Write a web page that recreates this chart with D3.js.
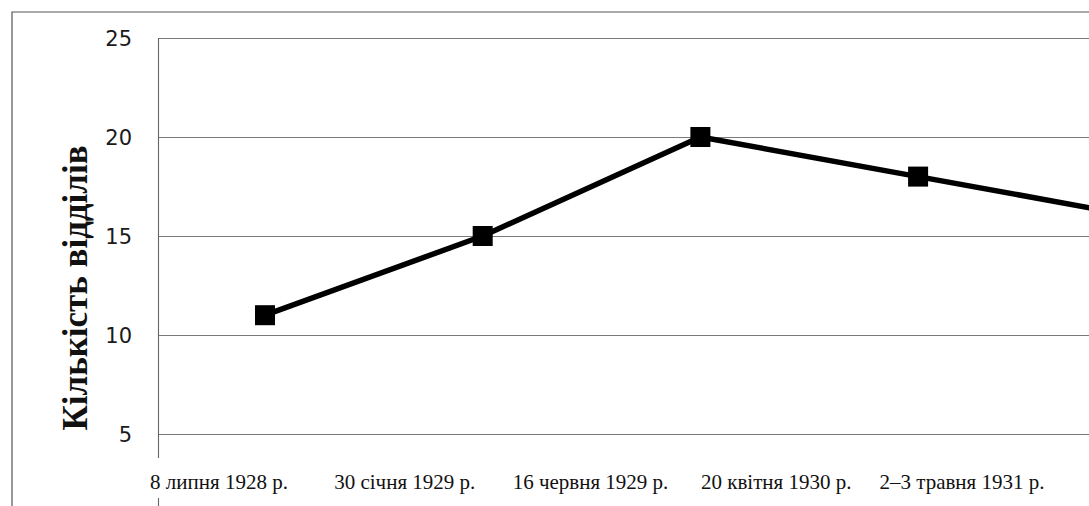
<!DOCTYPE html>
<html>
<head>
<meta charset="utf-8">
<script src="https://cdn.jsdelivr.net/npm/d3@7"></script>
<style>
  body { margin: 0; background: #fff; }
  svg { display: block; }
</style>
</head>
<body>
<svg width="1089" height="506"></svg>
<script>
// dates shown under the chart (the 6th point falls outside the crop)
const dates = ["8 липня 1928 р.", "30 січня 1929 р.", "16 червня 1929 р.", "20 квітня 1930 р.", "2–3 травня 1931 р."]
const values = [11, 15, 20, 18, 16]
const pointIndex = [0, 1, 2, 3, 4, 5]
const allValues = [11, 15, 20, 18, 16, 16]
const yTicks = [5, 10, 15, 20, 25]
const yTitle = "Кількість відділів"

let svg = d3.select("svg"),
    plotLeft = 158, plotTop = 38, plotBottom = 434

let y = d3.scaleLinear()
    .domain([5, 25])
    .range([plotBottom, plotTop])

// points are spaced wider than the labels in the scan
let x = d3.scalePoint()
    .domain(pointIndex)
    .range([265, 265 + 5 * 217.7])

let xl = d3.scalePoint()
    .domain(dates)
    .range([219, 962])

// outer frame
svg.append("path")
    .attr("d", "M12,506 V12 H1089")
    .attr("fill", "none")
    .attr("stroke", "#555")
    .attr("stroke-width", 1.2)

// gridlines
svg.append("g").selectAll("line").data(yTicks)
    .enter().append("line")
    .attr("x1", plotLeft)
    .attr("x2", 1089)
    .attr("y1", d => y(d) + 0.5)
    .attr("y2", d => y(d) + 0.5)
    .attr("stroke", "#7a7a7a")
    .attr("stroke-width", 1.1)

// y axis line
svg.append("line")
    .attr("x1", plotLeft + 0.5).attr("x2", plotLeft + 0.5)
    .attr("y1", y(25)).attr("y2", 458)
    .attr("stroke", "#666")
    .attr("stroke-width", 1.1)
svg.append("line")
    .attr("x1", plotLeft + 0.5).attr("x2", plotLeft + 0.5)
    .attr("y1", 498).attr("y2", 506)
    .attr("stroke", "#666")
    .attr("stroke-width", 1.1)

// y tick labels
svg.append("g").selectAll("text").data(yTicks)
    .enter().append("text")
    .attr("x", 132)
    .attr("y", d => y(d))
    .attr("dy", "0.36em")
    .attr("text-anchor", "end")
    .style("font-family", "'DejaVu Sans', sans-serif")
    .style("font-size", "21px")
    .attr("fill", "#1a1a1a")
    .text(d => d)

// y title
svg.append("text")
    .attr("transform", "translate(87, 288) rotate(-90)")
    .attr("text-anchor", "middle")
    .style("font-family", "'Liberation Serif', 'Times New Roman', serif")
    .style("font-weight", "bold")
    .style("font-size", "35px")
    .attr("fill", "#111")
    .text(yTitle)

// x labels
svg.append("g").selectAll("text").data(dates)
    .enter().append("text")
    .attr("x", d => xl(d))
    .attr("y", 489)
    .attr("text-anchor", "middle")
    .style("font-family", "'Liberation Serif', 'Times New Roman', serif")
    .style("font-size", "21px")
    .attr("fill", "#111")
    .text(d => d)

// line
let line = d3.line()
    .x((d, i) => x(i))
    .y(d => y(d))

svg.append("path")
    .datum(allValues)
    .attr("d", line)
    .attr("fill", "none")
    .attr("stroke", "#000")
    .attr("stroke-width", 5.5)
    .attr("stroke-linejoin", "round")

// markers
svg.append("g").selectAll("rect").data(values)
    .enter().append("rect")
    .attr("x", (d, i) => x(i) - 10)
    .attr("y", d => y(d) - 10)
    .attr("width", 20)
    .attr("height", 20)
    .attr("fill", "#000")
</script>
</body>
</html>
